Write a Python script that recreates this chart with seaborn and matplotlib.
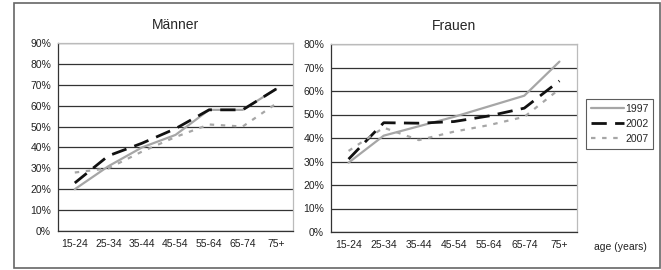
import seaborn as sns
import matplotlib.pyplot as plt
import pandas as pd
from matplotlib.patches import Rectangle
from matplotlib.ticker import PercentFormatter, FixedLocator

ages = ['15-24', '25-34', '35-44', '45-54', '55-64', '65-74', '75+']
years = ['1997', '2002', '2007']

men_1997 = [20, 31, 40, 46, 58, 58, 68]
men_2002 = [23, 36, 42, 49, 58, 58, 68]
men_2007 = [28, 30, 38, 45, 51, 50, 61]

women_1997 = [29.5, 41, 45, 49, 53.5, 58, 72.5]
women_2002 = [31, 46.5, 46.3, 47, 49.4, 52.7, 64.3]
women_2007 = [34.5, 44.4, 39.1, 42.7, 45.5, 49, 60.8]


def to_long(series):
    rows = []
    for year, vals in zip(years, series):
        for i, v in enumerate(vals):
            rows.append({'pos': i, 'year': year, 'value': v})
    return pd.DataFrame(rows)


df_men = to_long([men_1997, men_2002, men_2007])
df_women = to_long([women_1997, women_2002, women_2007])

sns.set_style('white')
plt.rcParams['font.family'] = ['Liberation Sans', 'DejaVu Sans']

palette = {'1997': '#a6a6a6', '2002': '#111111', '2007': '#a6a6a6'}
dashes = {'1997': '', '2002': (5.5, 3), '2007': (2, 3)}
widths = {'1997': 1.6, '2002': 2.0, '2007': 1.6}

fig = plt.figure(figsize=(6.61, 2.70), dpi=100)
ax1 = fig.add_axes([58 / 661, 1 - 231 / 270, (293 - 58) / 661, (231 - 43) / 270])
ax2 = fig.add_axes([331 / 661, 1 - 232 / 270, (577 - 331) / 661, (232 - 44) / 270])


def style_axes(ax, df, ymax, title):
    sns.lineplot(data=df, x='pos', y='value', hue='year', style='year',
                 palette=palette, dashes=dashes, ax=ax, legend=False)
    for line, year in zip(ax.get_lines(), years):
        line.set_linewidth(widths[year])
    ax.set_xlim(-0.5, 6.5)
    ax.set_ylim(0, ymax)
    ax.yaxis.set_major_locator(FixedLocator(list(range(0, ymax + 1, 10))))
    ax.yaxis.set_major_formatter(PercentFormatter(decimals=0))
    ax.set_xticks([i - 0.5 for i in range(8)])
    ax.set_xticklabels([])
    ax.set_xticks(range(7), minor=True)
    ax.set_xticklabels(ages, minor=True)
    ax.tick_params(axis='x', which='major', length=3, direction='out', color='#333333')
    ax.tick_params(axis='x', which='minor', length=0, labelsize=7.5, pad=6, labelcolor='#222222')
    ax.tick_params(axis='y', length=3, direction='out', labelsize=7.5, pad=2,
                   color='#333333', labelcolor='#222222')
    ax.yaxis.grid(True, color='#333333', linewidth=0.9)
    ax.set_axisbelow(True)
    ax.set_xlabel('')
    ax.set_ylabel('')
    for side in ['left', 'bottom']:
        ax.spines[side].set_color('#333333')
        ax.spines[side].set_linewidth(0.9)
    for side in ['top', 'right']:
        ax.spines[side].set_color('#bbbbbb')
        ax.spines[side].set_linewidth(0.9)
    ax.set_title(title, fontsize=10, pad=10)


style_axes(ax1, df_men, 90, 'Männer')
style_axes(ax2, df_women, 80, 'Frauen')

handles = ax2.get_lines()[:3]
leg = ax2.legend(handles, years, loc='upper left', bbox_to_anchor=(586 / 661, 1 - 99 / 270),
                 bbox_transform=fig.transFigure, fontsize=7.5, frameon=True, fancybox=False,
                 handlelength=3.2, handletextpad=0.1, borderpad=0.45, labelspacing=0.5,
                 borderaxespad=0)
leg.get_frame().set_edgecolor('#333333')
leg.get_frame().set_linewidth(0.8)

fig.text(620 / 661, 1 - 247 / 270, 'age (years)', fontsize=7.5, ha='center', va='center',
         color='#222222')

fig.patches.append(Rectangle((14 / 661, 2 / 270), 646 / 661, 265 / 270,
                             transform=fig.transFigure, fill=False,
                             edgecolor='#666666', linewidth=1.2))

fig.savefig('out.png', dpi=100)
